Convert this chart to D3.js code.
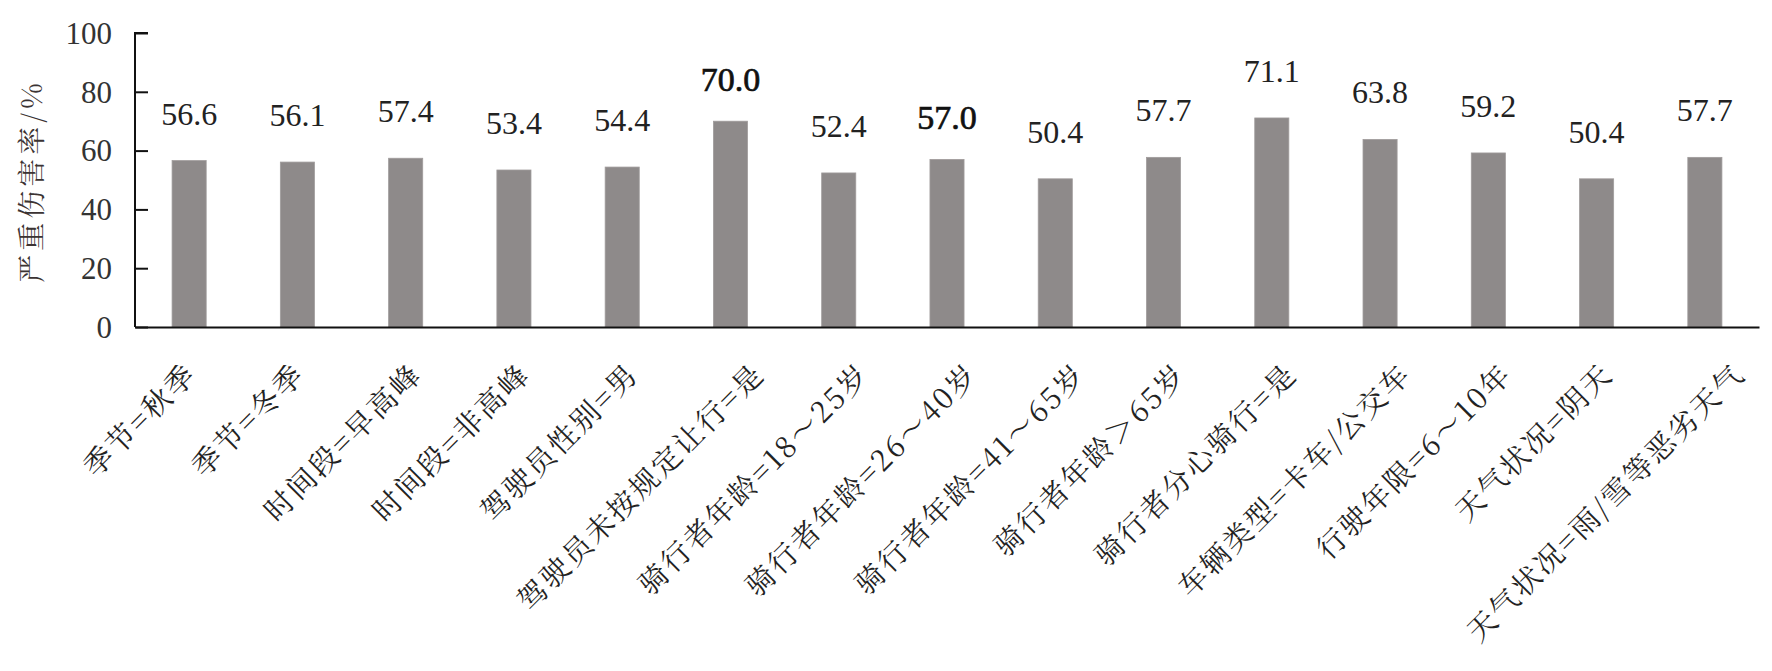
<!DOCTYPE html>
<html><head><meta charset="utf-8">
<script src="https://cdn.jsdelivr.net/npm/d3@7"></script>
<style>
html,body{margin:0;padding:0;background:#fff;}
svg{display:block;}
</style></head>
<body>
<svg id="chart" width="1772" height="671"></svg>
<script>
const categories = ["季节=秋季","季节=冬季","时间段=早高峰","时间段=非高峰","驾驶员性别=男","驾驶员未按规定让行=是","骑行者年龄=18～25岁","骑行者年龄=26～40岁","骑行者年龄=41～65岁","骑行者年龄＞65岁","骑行者分心骑行=是","车辆类型=卡车/公交车","行驶年限=6～10年","天气状况=阴天","天气状况=雨/雪等恶劣天气"];
const values = [56.6,56.1,57.4,53.4,54.4,70.0,52.4,57.0,50.4,57.7,71.1,63.8,59.2,50.4,57.7];
const emphasised = ["驾驶员未按规定让行=是","骑行者年龄=26～40岁"];
const yTicks = [0,20,40,60,80,100];
const yTitle = "严重伤害率/%";

const NUM = '"Liberation Serif"';
const CJK = '"Noto Serif CJK SC"';

const svg = d3.select("#chart");
const m = {left:135, right:1759, top:33, bottom:327};

const x = d3.scaleBand().domain(categories).range([m.left, m.right]).paddingInner(0.685).paddingOuter(0.3425);
const y = d3.scaleLinear().domain([0,100]).range([m.bottom, m.top]);

// bars
svg.append("g").selectAll("rect").data(categories).join("rect")
  .attr("x", d => x(d))
  .attr("width", x.bandwidth())
  .attr("y", (d,i) => y(values[i]))
  .attr("height", (d,i) => y(0) - y(values[i]))
  .attr("fill", "#8e8a8a")
  .attr("stroke", "#a09c9c").attr("stroke-width", 0.8);

// value labels
svg.append("g").selectAll("text").data(categories).join("text")
  .style("font-family", NUM)
  .attr("x", d => x(d) + x.bandwidth()/2)
  .attr("y", (d,i) => y(values[i]) - (emphasised.includes(d) ? 30 : 36))
  .attr("text-anchor", "middle")
  .attr("font-size", d => emphasised.includes(d) ? 34 : 32)
  .attr("fill", d => emphasised.includes(d) ? "#111" : "#222")
  .attr("stroke", d => emphasised.includes(d) ? "#111" : "none")
  .attr("stroke-width", 0.7)
  .text((d,i) => values[i].toFixed(1));

// y axis
const yAxis = svg.append("g").attr("transform", `translate(${m.left},0)`)
  .call(d3.axisRight(y).tickValues(yTicks).tickSize(13).tickFormat(""));
yAxis.select(".domain").attr("stroke", "#111").attr("stroke-width", 2).attr("d", `M13,${m.top}H0V${m.bottom}`);
yAxis.selectAll(".tick line").attr("stroke", "#111").attr("stroke-width", 2);

svg.append("g").selectAll("text").data(yTicks).join("text")
  .style("font-family", NUM)
  .attr("x", 112).attr("y", d => y(d))
  .attr("dy", "0.35em")
  .attr("text-anchor", "end")
  .attr("font-size", 31).attr("fill", "#333")
  .text(d => d);

// x axis
const xAxis = svg.append("g").attr("transform", `translate(0,${m.bottom})`)
  .call(d3.axisBottom(x).tickSize(0).tickFormat(""));
xAxis.select(".domain").attr("stroke", "#111").attr("stroke-width", 2.2);

svg.append("g").selectAll("text").data(categories).join("text")
  .style("font-family", CJK)
  .attr("text-anchor", "end")
  .attr("font-size", 29).attr("letter-spacing", "2.5px").attr("fill", "#222")
  .text(d => d)
  .each(function(d) {
    const len = this.getComputedTextLength();
    const off = 0.14 * len - 11;
    d3.select(this).attr("transform", `translate(${x(d) + x.bandwidth()/2 + off},376) rotate(-45)`);
  });

// y title
svg.append("text")
  .style("font-family", CJK)
  .attr("transform", `translate(42,181) rotate(-90)`)
  .attr("text-anchor", "middle")
  .attr("font-size", 28).attr("letter-spacing", "4px").attr("fill", "#3b3333")
  .text(yTitle);
</script>
</body></html>
